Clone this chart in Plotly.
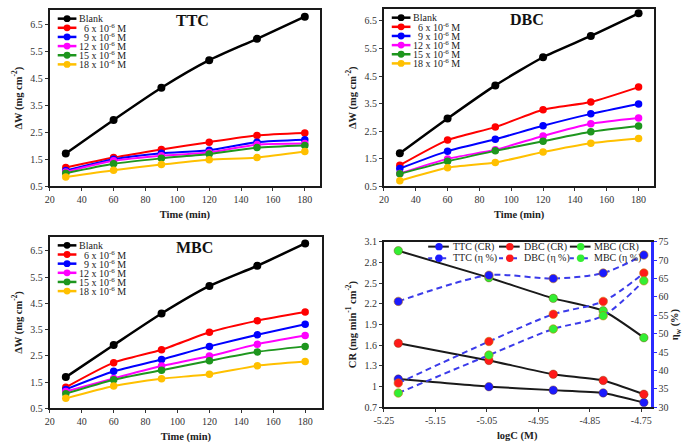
import plotly.graph_objects as go

W, H = 685, 445
SERIF = "Liberation Serif"

# ---------------- data ----------------
time_min = [30, 60, 90, 120, 150, 180]
series_names = ["Blank", "6 x 10<sup>-6</sup> M", "9 x 10<sup>-6</sup> M",
                "12 x 10<sup>-6</sup> M", "15 x 10<sup>-6</sup> M", "18 x 10<sup>-6</sup> M"]
legend_labels = ["Blank", "\u00a0\u00a06 x 10<sup>-6</sup> M", "\u00a0\u00a09 x 10<sup>-6</sup> M",
                 "12 x 10<sup>-6</sup> M", "15 x 10<sup>-6</sup> M", "18 x 10<sup>-6</sup> M"]
series_colors = ["#000000", "#FF0000", "#0000FF", "#FF00FF", "#1E961E", "#FFC000"]

ttc_blank = [1.72, 2.96, 4.15, 5.17, 5.96, 6.78]
ttc_6 = [1.20, 1.57, 1.87, 2.14, 2.39, 2.48]
ttc_9 = [1.09, 1.51, 1.73, 1.84, 2.14, 2.23]
ttc_12 = [1.04, 1.45, 1.64, 1.76, 2.05, 2.09]
ttc_15 = [0.99, 1.34, 1.54, 1.70, 1.94, 2.02]
ttc_18 = [0.85, 1.10, 1.31, 1.49, 1.57, 1.79]

dbc_blank = [1.70, 2.96, 4.16, 5.18, 5.95, 6.77]
dbc_6 = [1.27, 2.18, 2.65, 3.28, 3.56, 4.10]
dbc_9 = [1.15, 1.78, 2.21, 2.70, 3.13, 3.49]
dbc_12 = [0.97, 1.50, 1.83, 2.33, 2.77, 2.98]
dbc_15 = [0.96, 1.41, 1.79, 2.14, 2.48, 2.69]
dbc_18 = [0.71, 1.18, 1.37, 1.75, 2.07, 2.24]

mbc_blank = [1.69, 2.91, 4.11, 5.16, 5.93, 6.78]
mbc_6 = [1.30, 2.24, 2.73, 3.40, 3.84, 4.17]
mbc_9 = [1.22, 1.91, 2.36, 2.86, 3.30, 3.70]
mbc_12 = [1.14, 1.64, 2.11, 2.49, 2.94, 3.27]
mbc_15 = [1.06, 1.59, 1.95, 2.31, 2.65, 2.86]
mbc_18 = [0.88, 1.35, 1.63, 1.80, 2.12, 2.28]

log_c = [-5.222, -5.046, -4.921, -4.824, -4.745]
cr_ttc = [1.11, 1.00, 0.95, 0.91, 0.77]
cr_dbc = [1.63, 1.38, 1.18, 1.09, 0.89]
cr_mbc = [2.97, 2.58, 2.28, 2.10, 1.71]
eta_ttc = [58.8, 65.9, 65.0, 66.5, 71.4]
eta_dbc = [36.6, 47.9, 55.3, 58.8, 66.5]
eta_mbc = [33.9, 44.2, 51.3, 54.9, 64.4]
inhib_names = ["TTC", "DBC", "MBC"]
inhib_colors = ["#1A1AFF", "#FF1A1A", "#33EE33"]

y_ticks = [0.5, 1.5, 2.5, 3.5, 4.5, 5.5, 6.5]
x_ticks = [20, 40, 60, 80, 100, 120, 140, 160, 180]
logc_ticks = [-5.25, -5.15, -5.05, -4.95, -4.85, -4.75]
cr_ticks = [0.7, 1.0, 1.3, 1.6, 1.9, 2.2, 2.5, 2.8, 3.1]
cr_ticktext = ["0.7", "1", "1.3", "1.6", "1.9", "2.2", "2.5", "2.8", "3.1"]
eta_ticks = [30, 35, 40, 45, 50, 55, 60, 65, 70, 75]

panels = [
    ("TTC", [ttc_blank, ttc_6, ttc_9, ttc_12, ttc_15, ttc_18]),
    ("DBC", [dbc_blank, dbc_6, dbc_9, dbc_12, dbc_15, dbc_18]),
    ("MBC", [mbc_blank, mbc_6, mbc_9, mbc_12, mbc_15, mbc_18]),
]

# ---------------- layout geometry (pixels) ----------------
geo = [
    ((40.5, 315, 4, 185.5), [20, 189.5], [0.5, 7.03]),
    ((380, 655, 3, 185.5), [20, 190], [0.5, 6.93]),
    ((40.5, 317, 237, 413.5), [20, 190.5], [0.5, 7.04]),
]
p4 = (380, 651, 242.3, 412.5)


def fx(px):
    return px / W


def fy(py):
    return 1 - py / H


tick_font = dict(family=SERIF, size=10, color="#333333")
title_font = dict(family=SERIF, size=10.5, color="#222222")

fig = go.Figure()
layout = dict(
    width=W, height=H, margin=dict(l=0, r=0, t=0, b=0),
    paper_bgcolor="white", plot_bgcolor="white", showlegend=False,
    font=dict(family=SERIF),
)
shapes = []
annotations = []

for i, ((name, data), ((l, r, t, b), xr, yr)) in enumerate(zip(panels, geo)):
    k = "" if i == 0 else str(i + 1)
    for j, ys in enumerate(data):
        fig.add_trace(go.Scatter(
            x=time_min, y=ys, name=series_names[j], xaxis="x" + k, yaxis="y" + k,
            mode="lines+markers",
            line=dict(color=series_colors[j], width=2.5 if j == 0 else 2, shape="spline", smoothing=0.6),
            marker=dict(color=series_colors[j], size=8 if j == 0 else 7.5),
        ))
    layout["xaxis" + k] = dict(
        domain=[fx(l), fx(r)], range=xr, autorange=False, anchor="y" + k,
        tickmode="array", tickvals=x_ticks,
        showline=True, mirror=True, linecolor="#1a1a1a", linewidth=2,
        ticks="outside", ticklen=3, tickcolor="#333", showgrid=False, zeroline=False,
        tickfont=tick_font,
        title=dict(text="<b>Time (min)</b>", font=title_font, standoff=6),
    )
    layout["yaxis" + k] = dict(
        domain=[fy(b), fy(t)], range=yr, autorange=False, anchor="x" + k,
        tickmode="array", tickvals=y_ticks,
        showline=True, mirror=True, linecolor="#1a1a1a", linewidth=2,
        ticks="outside", ticklen=3, tickcolor="#333", showgrid=False, zeroline=False,
        tickfont=tick_font,
        title=dict(text="<b>ΔW (mg cm<sup>-2</sup>)</b>", font=title_font, standoff=6),
    )
    annotations.append(dict(
        x=fx(l + 0.53 * (r - l)), y=fy(t + 11), xref="paper", yref="paper",
        text="<b>%s</b>" % name, showarrow=False, xanchor="center", yanchor="middle",
        font=dict(family=SERIF, size=16, color="#111"),
    ))
    lx0 = l + 8
    for j, lab in enumerate(legend_labels):
        yy = t + 9 + j * 9.4
        shapes.append(dict(type="line", xref="paper", yref="paper",
                           x0=fx(lx0), x1=fx(lx0 + 19), y0=fy(yy), y1=fy(yy),
                           line=dict(color=series_colors[j], width=2.5)))
        shapes.append(dict(type="circle", xref="paper", yref="paper",
                           x0=fx(lx0 + 9.5 - 3.5), x1=fx(lx0 + 9.5 + 3.5),
                           y0=fy(yy + 3.5), y1=fy(yy - 3.5),
                           fillcolor=series_colors[j], line=dict(color=series_colors[j], width=0)))
        annotations.append(dict(
            x=fx(lx0 + 19.5), y=fy(yy), xref="paper", yref="paper", text=lab,
            showarrow=False, xanchor="left", yanchor="middle",
            font=dict(family=SERIF, size=10, color="#222"),
        ))

# ---------------- panel 4 ----------------
l, r, t, b = p4
for n, cr, col in zip(inhib_names, [cr_ttc, cr_dbc, cr_mbc], inhib_colors):
    fig.add_trace(go.Scatter(
        x=log_c, y=cr, name=n + " (CR)", xaxis="x4", yaxis="y4", mode="lines+markers",
        line=dict(color="#1a1a1a", width=2, shape="spline", smoothing=0.5),
        marker=dict(color=col, size=8.5, line=dict(color="rgba(120,60,0,0.5)", width=0.8)),
    ))
for n, eta, col in zip(inhib_names, [eta_ttc, eta_dbc, eta_mbc], inhib_colors):
    fig.add_trace(go.Scatter(
        x=log_c, y=eta, name=n + " (η %)", xaxis="x4", yaxis="y5", mode="lines+markers",
        line=dict(color="#3B3BEA", width=2, dash="6px,4px", shape="spline", smoothing=0.8),
        marker=dict(color=col, size=8.5, line=dict(color="rgba(200,120,0,0.7)", width=0.8)),
    ))

layout["xaxis4"] = dict(
    domain=[fx(l), fx(r)], range=[-5.25, -4.732], autorange=False, anchor="y4",
    tickmode="array", tickvals=logc_ticks, ticktext=["%.2f" % v for v in logc_ticks],
    showline=True, mirror=True, linecolor="#1a1a1a", linewidth=2,
    ticks="outside", ticklen=3, tickcolor="#333", showgrid=False, zeroline=False,
    tickfont=tick_font,
    title=dict(text="<b>logC (M)</b>", font=title_font, standoff=6),
)
layout["yaxis4"] = dict(
    domain=[fy(b), fy(t)], range=[0.7, 3.1], autorange=False, anchor="x4",
    tickmode="array", tickvals=cr_ticks, ticktext=cr_ticktext,
    showline=True, mirror=False, linecolor="#1a1a1a", linewidth=2,
    ticks="outside", ticklen=3, tickcolor="#333", showgrid=False, zeroline=False,
    tickfont=tick_font,
    title=dict(text="<b>CR (mg min<sup>-1</sup> cm<sup>-2</sup>)</b>", font=title_font, standoff=6),
)
layout["yaxis5"] = dict(
    range=[30, 75], autorange=False, overlaying="y4", anchor="x4", side="right",
    tickmode="array", tickvals=eta_ticks,
    showline=True, linecolor="#2B2BFF", linewidth=3,
    ticks="outside", ticklen=3, tickcolor="#2B2BFF", showgrid=False, zeroline=False,
    tickfont=tick_font,
    title=dict(text="<b>η<sub>w</sub> (%)</b>", font=title_font, standoff=4),
)

for row, (suffix, dashed) in enumerate([(" (CR)", False), (" (η %)", True)]):
    yy = t + 5 + row * 12
    for c, (n, col) in enumerate(zip(inhib_names, inhib_colors)):
        lx0 = 425 + c * 72
        shapes.append(dict(type="line", xref="paper", yref="paper",
                           x0=fx(lx0), x1=fx(lx0 + 21), y0=fy(yy), y1=fy(yy),
                           line=dict(color="#3B3BEA" if dashed else "#1a1a1a", width=2,
                                     dash="4px,3px" if dashed else "solid")))
        shapes.append(dict(type="circle", xref="paper", yref="paper",
                           x0=fx(lx0 + 11 - 3.8), x1=fx(lx0 + 11 + 3.8),
                           y0=fy(yy + 3.8), y1=fy(yy - 3.8),
                           fillcolor=col, line=dict(color=col, width=0)))
        annotations.append(dict(
            x=fx(lx0 + 23), y=fy(yy), xref="paper", yref="paper", text=n + suffix,
            showarrow=False, xanchor="left", yanchor="middle",
            font=dict(family=SERIF, size=10, color="#222"),
        ))

layout["shapes"] = shapes
layout["annotations"] = annotations
fig.update_layout(**layout)
fig.write_html("out.html", config={"displayModeBar": False},
               post_script="document.body.style.margin='0px';")
